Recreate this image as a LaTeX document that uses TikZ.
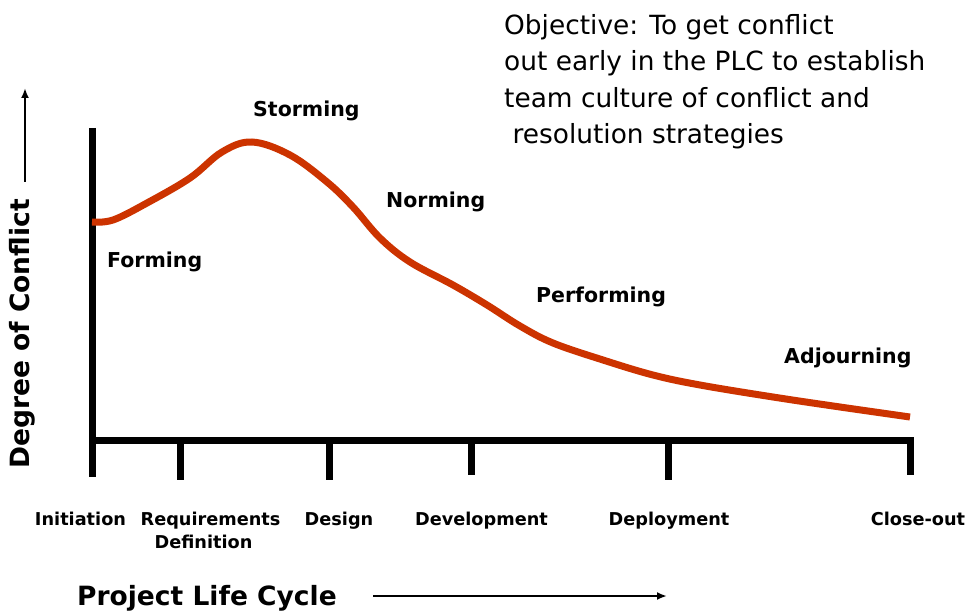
\documentclass[tikz,border=0pt]{standalone}
\usepackage{fontspec}
\setmainfont{DejaVu Sans}
\usetikzlibrary{arrows.meta}

\definecolor{conflictred}{HTML}{CC3300}

\tikzset{
	axisline/.style={line width=7pt, line join=miter},
	stage/.style={font=\fontsize{20.5}{24}\selectfont\bfseries, anchor=base west, inner sep=0pt},
	phase/.style={font=\fontsize{17.7}{21}\selectfont\bfseries, anchor=base, inner sep=0pt},
	bigtitle/.style={font=\fontsize{26.5}{30}\selectfont\bfseries, inner sep=0pt},
	pointer/.style={line width=2.5pt, -{Latex[length=10pt, width=8pt]}}
}

\begin{document}
\begin{tikzpicture}[x=1pt, y=-1pt]
	\useasboundingbox (0,0) rectangle (971,612);

	% axes and phase ticks
	\draw[axisline] (92,128) -- (92,477);
	\draw[axisline] (92,440) -- (910,440) -- (910,475);
	\foreach \x/\b in {180/480, 329/480, 471/475, 668/480}
		\draw[axisline] (\x,440) -- (\x,\b);

	% conflict curve
	\draw[conflictred, line width=7pt] plot[smooth, tension=0.6] coordinates {
		(92,222) (113,220) (147,203) (190,178) (222,152) (252,142) (290,155)
		(327,182) (353,207) (380,238) (410,262) (453,285) (487,305) (520,326)
		(553,343) (603,360) (653,375) (700,385) (773,397) (840,407) (910,417)};

	% stages
	\node[stage] (forming) at (107,267) {Forming};
	\node[stage] (storming) at (253,117) {Storming};
	\node[stage] (norming) at (386,208) {Norming};
	\node[stage] (performing) at (536,302) {Performing};
	\node[stage] (adjourning) at (784,363) {Adjourning};

	% phases
	\node[phase] (init) at (80.5,525) {Initiation};
	\node[phase] (req) at (210.5,525) {Requirements};
	\node[phase] (reqdef) at ([xshift=-7pt, yshift=-23pt]req.base) {Definition};
	\node[phase] (design) at (339,525) {Design};
	\node[phase] (devel) at (481.5,525) {Development};
	\node[phase] (deploy) at (669,525) {Deployment};
	\node[phase] (close) at (918,525) {Close-out};

	% axis titles
	\node[bigtitle, rotate=90] (ytitle) at (22,334) {Degree of Conflict};
	\coordinate (ytail) at (25,182);
	\coordinate (yhead) at (25,88);
	\draw[pointer] (ytail) -- (yhead);

	\node[bigtitle, anchor=base west] (xtitle) at (77,605) {Project Life Cycle};
	\coordinate (xtail) at (373,596);
	\coordinate (xhead) at (667,596);
	\draw[pointer] (xtail) -- (xhead);

	% objective note (base = last line)
	\node[anchor=base west, align=left, inner sep=0pt,
		font=\fontsize{26.4}{36.5}\selectfont] (goal) at (504,144)
		{Objective: To get conflict\\out early in the PLC to establish\\team culture of conflict and\\\ resolution strategies};
\end{tikzpicture}
\end{document}
